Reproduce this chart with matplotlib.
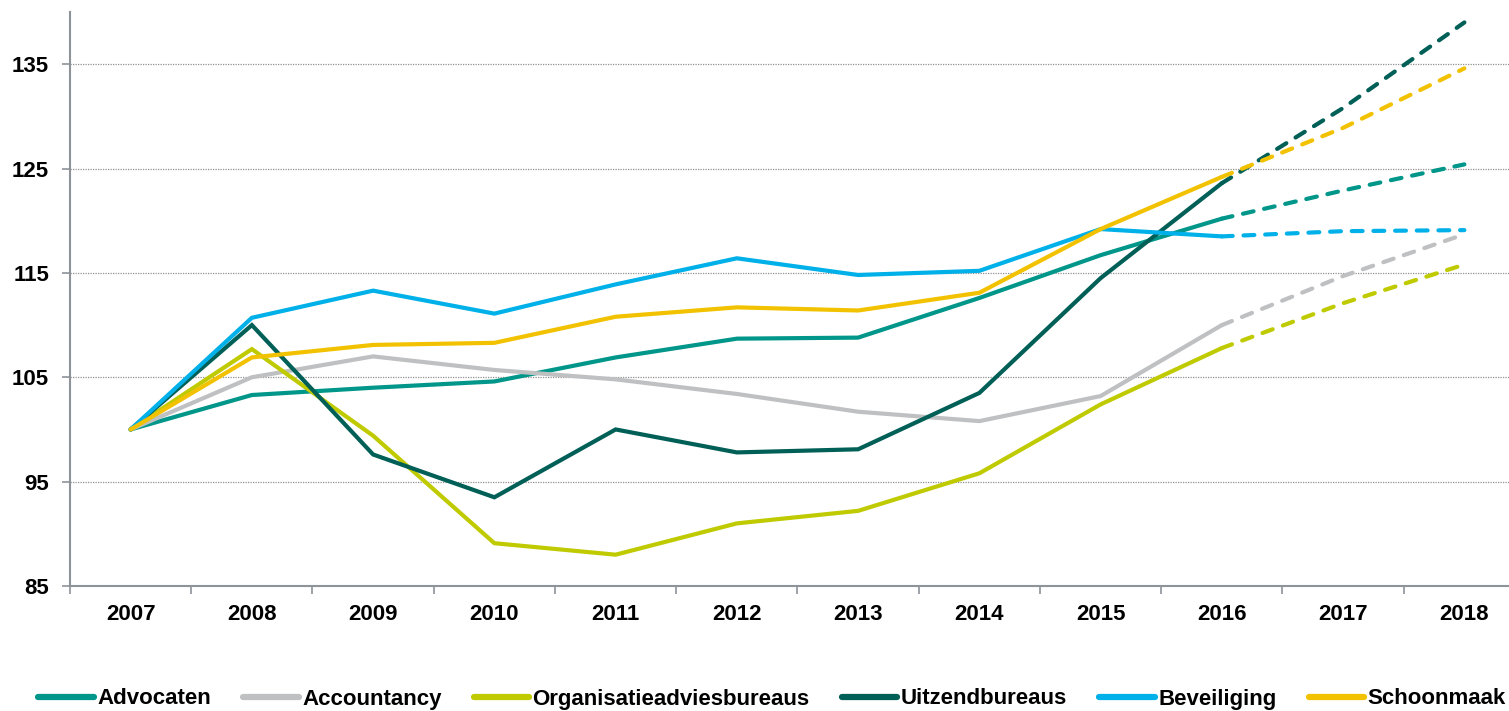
import matplotlib
matplotlib.use("Agg")
import matplotlib.pyplot as plt
from matplotlib.lines import Line2D

years = [2007, 2008, 2009, 2010, 2011, 2012, 2013, 2014, 2015, 2016, 2017, 2018]
last_actual = 2016

advocaten = [100, 103.3, 104.0, 104.6, 106.9, 108.7, 108.8, 112.6, 116.7, 120.2, 122.9, 125.4]
accountancy = [100, 105.0, 107.0, 105.7, 104.8, 103.4, 101.7, 100.8, 103.2, 110.0, 114.7, 118.7]
organisatie = [100, 107.7, 99.4, 89.1, 88.0, 91.0, 92.2, 95.8, 102.4, 107.8, 112.1, 115.8]
uitzend = [100, 110.0, 97.6, 93.5, 100.0, 97.8, 98.1, 103.5, 114.5, 123.6, 130.8, 139.0]
beveiliging = [100, 110.7, 113.3, 111.1, 113.9, 116.4, 114.8, 115.2, 119.2, 118.5, 119.0, 119.1]
schoonmaak = [100, 106.9, 108.1, 108.3, 110.8, 111.7, 111.4, 113.1, 119.2, 124.2, 128.9, 134.6]

names = ["Advocaten", "Accountancy", "Organisatieadviesbureaus", "Uitzendbureaus", "Beveiliging", "Schoonmaak"]
series = [advocaten, accountancy, organisatie, uitzend, beveiliging, schoonmaak]
colors = ["#00968A", "#BFC0C2", "#BFCB00", "#005F56", "#00B0E8", "#F2C200"]

yticks = [85, 95, 105, 115, 125, 135]

plt.rcParams['font.family'] = ['Liberation Sans', 'DejaVu Sans']

fig = plt.figure(figsize=(15.09, 7.11), dpi=100)
ax = fig.add_axes([70/1509, 1-586/711, (1525-70)/1509, (586-12)/711])

idx = years.index(last_actual)
x = list(range(len(years)))
for vals, col in zip(series, colors):
    ax.plot(x[:idx+1], vals[:idx+1], color=col, lw=3.0, solid_capstyle='round',
            solid_joinstyle='miter', zorder=3)
    ax.plot(x[idx:], vals[idx:], color=col, lw=3.0, dashes=(2.6, 2.6),
            dash_capstyle='round', zorder=3)

ax.set_xlim(-0.5, len(years) - 0.5)
ax.set_ylim(85, 140)
ax.set_yticks(yticks)
ax.set_yticklabels([str(v) for v in yticks], fontsize=16, fontweight='bold')
ax.set_xticks(x)
ax.set_xticklabels([str(y) for y in years], fontsize=16, fontweight='bold')
ax.set_xticks([i - 0.5 for i in range(len(years) + 1)], minor=True)
ax.tick_params(axis='x', which='major', length=0, pad=13)
ax.tick_params(axis='x', which='minor', length=6, width=1.2, color='#8C9399', direction='out')
ax.tick_params(axis='y', length=6, width=1.2, color='#8C9399', pad=9)

for y in yticks[1:]:
    ax.axhline(y, color='#909090', lw=0.9, ls=(0, (1, 1)), zorder=1)

for s in ['top', 'right']:
    ax.spines[s].set_visible(False)
for s in ['left', 'bottom']:
    ax.spines[s].set_color('#8C9399')
    ax.spines[s].set_linewidth(1.5)

handles = [Line2D([0], [0], color=c, lw=4.5, solid_capstyle='round') for c in colors]
fig.legend(handles, names, loc='center', bbox_to_anchor=(772/1509, 1-699/711), ncol=6,
           frameon=False, prop={'weight': 'bold', 'size': 16}, handlelength=2.5,
           handletextpad=0.15, columnspacing=1.45, borderaxespad=0)

fig.savefig("out.png", dpi=100)
